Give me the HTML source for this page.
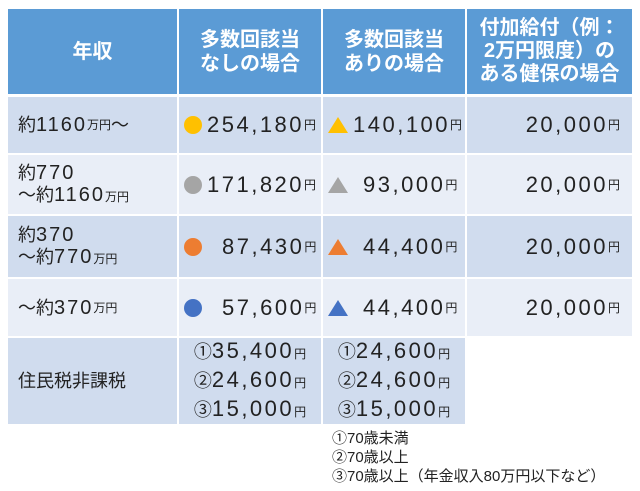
<!DOCTYPE html><html><head><meta charset="utf-8"><style>
body{margin:0;width:640px;height:491px;background:#fff;position:relative;overflow:hidden;font-family:"Liberation Sans","Noto Sans CJK JP",sans-serif;color:#222}
.c{position:absolute;box-sizing:border-box;display:flex;align-items:center;font-size:18px;line-height:22px;white-space:nowrap}
.h{background:#5b9bd5;color:#fff;justify-content:center;text-align:center;font-weight:bold;font-size:20px;line-height:24px}
.a{background:#d0dcee}.b{background:#e9eef7}
.y{font-size:12px}
.dot{display:inline-block;width:18px;height:18px;border-radius:50%;margin-right:5px}
.tri{display:inline-block;width:0;height:0;border-left:10px solid transparent;border-right:10px solid transparent;border-bottom:16px solid;margin-right:5px}
.n{font-size:22px;letter-spacing:2.5px}
.m{font-size:20px;letter-spacing:2px}
</style></head><body>
<div class="c h" style="left:8px;top:9px;width:169px;height:85px">年収</div>
<div class="c h" style="left:179px;top:9px;width:142px;height:85px">多数回該当<br>なしの場合</div>
<div class="c h" style="left:323px;top:9px;width:142px;height:85px">多数回該当<br>ありの場合</div>
<div class="c h" style="left:467px;top:9px;width:165px;height:85px;line-height:23px">付加給付（例：<br>2万円限度）の<br>ある健保の場合</div>

<div class="c a" style="left:8px;top:97px;width:169px;height:56px;padding-left:10px">約<span class="m">1160</span><span class="y">万円</span>〜</div>
<div class="c a" style="left:179px;top:97px;width:142px;height:56px;padding-left:5px"><span class="dot" style="background:#ffc000"></span><span class="n">254,180</span><span class="y">円</span></div>
<div class="c a" style="left:323px;top:97px;width:142px;height:56px;padding-left:5px"><span class="tri" style="border-bottom-color:#ffc000"></span><span class="n">140,100</span><span class="y">円</span></div>
<div class="c a" style="left:467px;top:97px;width:165px;height:56px;justify-content:flex-end;padding-right:12px"><span class="n">20,000</span><span class="y">円</span></div>

<div class="c b" style="left:8px;top:155px;width:169px;height:59px;padding-left:10px;display:block;padding-top:7px">約<span class="m">770</span><br>〜約<span class="m">1160</span><span class="y">万円</span></div>
<div class="c b" style="left:179px;top:155px;width:142px;height:59px;padding-left:5px"><span class="dot" style="background:#a5a5a5"></span><span class="n">171,820</span><span class="y">円</span></div>
<div class="c b" style="left:323px;top:155px;width:142px;height:59px;padding-left:5px"><span class="tri" style="border-bottom-color:#a5a5a5"></span>&nbsp;&nbsp;<span class="n">93,000</span><span class="y">円</span></div>
<div class="c b" style="left:467px;top:155px;width:165px;height:59px;justify-content:flex-end;padding-right:12px"><span class="n">20,000</span><span class="y">円</span></div>

<div class="c a" style="left:8px;top:216px;width:169px;height:61px;padding-left:10px;display:block;padding-top:8px">約<span class="m">370</span><br>〜約<span class="m">770</span><span class="y">万円</span></div>
<div class="c a" style="left:179px;top:216px;width:142px;height:61px;padding-left:5px"><span class="dot" style="background:#ed7d31"></span>&nbsp;&nbsp;&nbsp;<span class="n">87,430</span><span class="y">円</span></div>
<div class="c a" style="left:323px;top:216px;width:142px;height:61px;padding-left:5px"><span class="tri" style="border-bottom-color:#ed7d31"></span>&nbsp;&nbsp;<span class="n">44,400</span><span class="y">円</span></div>
<div class="c a" style="left:467px;top:216px;width:165px;height:61px;justify-content:flex-end;padding-right:12px"><span class="n">20,000</span><span class="y">円</span></div>

<div class="c b" style="left:8px;top:279px;width:169px;height:57px;padding-left:10px">〜約<span class="m">370</span><span class="y">万円</span></div>
<div class="c b" style="left:179px;top:279px;width:142px;height:57px;padding-left:5px"><span class="dot" style="background:#4472c4"></span>&nbsp;&nbsp;&nbsp;<span class="n">57,600</span><span class="y">円</span></div>
<div class="c b" style="left:323px;top:279px;width:142px;height:57px;padding-left:5px"><span class="tri" style="border-bottom-color:#4472c4"></span>&nbsp;&nbsp;<span class="n">44,400</span><span class="y">円</span></div>
<div class="c b" style="left:467px;top:279px;width:165px;height:57px;justify-content:flex-end;padding-right:12px"><span class="n">20,000</span><span class="y">円</span></div>

<div class="c a" style="left:8px;top:338px;width:169px;height:86px;padding-left:10px">住民税非課税</div>
<div class="c a" style="left:179px;top:338px;width:142px;height:86px;justify-content:center;text-align:left;line-height:26px"><div>①<span class="n">35,400</span><span class="y">円</span><br>②<span class="n">24,600</span><span class="y">円</span><br>③<span class="n">15,000</span><span class="y">円</span></div></div>
<div class="c a" style="left:323px;top:338px;width:142px;height:86px;justify-content:center;text-align:left;line-height:26px"><div>①<span class="n">24,600</span><span class="y">円</span><br>②<span class="n">24,600</span><span class="y">円</span><br>③<span class="n">15,000</span><span class="y">円</span></div></div>

<div style="position:absolute;left:332px;top:429px;font-size:15px;line-height:19px;white-space:nowrap">①70歳未満<br>②70歳以上<br>③70歳以上（年金収入80万円以下など）</div>
</body></html>
